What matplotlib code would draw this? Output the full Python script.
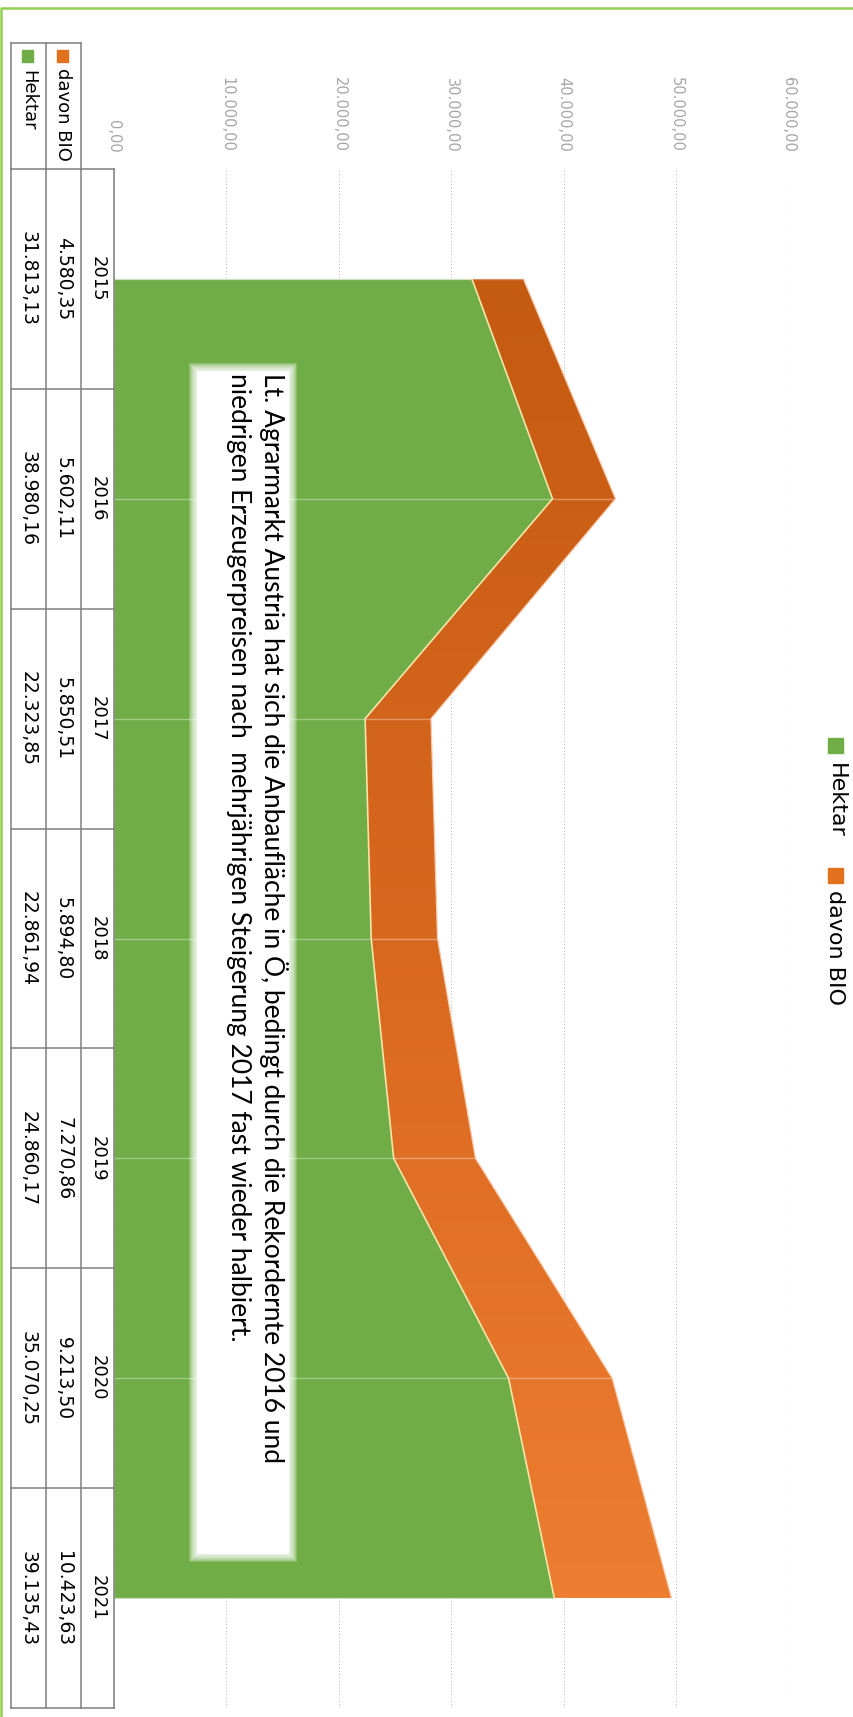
import numpy as np
import matplotlib.pyplot as plt
import matplotlib.transforms as mtransforms
from matplotlib.colors import LinearSegmentedColormap
from matplotlib.patches import Rectangle
from matplotlib.ticker import FuncFormatter

# data (chart is drawn turned by 90 degrees, as in the reference)
years = ["2015", "2016", "2017", "2018", "2019", "2020", "2021"]
hektar = [31813.13, 38980.16, 22323.85, 22861.94, 24860.17, 35070.25, 39135.43]
bio = [4580.35, 5602.11, 5850.51, 5894.80, 7270.86, 9213.50, 10423.63]
series_names = ["Hektar", "davon BIO"]
note = ("Lt. Agrarmarkt Austria hat sich die Anbaufläche in Ö, bedingt durch die Rekordernte 2016 und\n"
        "niedrigen Erzeugerpreisen nach  mehrjährigen Steigerung 2017 fast wieder halbiert.")

green = "#70AD47"
orange_top = "#C55A11"
orange_bot = "#ED7D31"


def de(v):
    # german number format 12.345,67
    return f"{v:,.2f}".replace(",", "X").replace(".", ",").replace("X", ".")


W, H = 854, 1717
fig = plt.figure(figsize=(W / 100, H / 100), dpi=100)


def px(x0, y0, x1, y1):
    return [x0 / W, 1 - y1 / H, (x1 - x0) / W, (y1 - y0) / H]


ax = fig.add_axes(px(114, 169, 789, 1708))
ax.patch.set_alpha(0)
pos = np.arange(len(years))
top = np.array(hektar) + np.array(bio)

ax.fill_betweenx(pos, 0, hektar, color=green, lw=0, zorder=2)
band = ax.fill_betweenx(pos, hektar, top, facecolor="none", lw=0, zorder=2)
cmap = LinearSegmentedColormap.from_list("og", [orange_top, "#D9681F", orange_bot])
grad = ax.imshow(np.linspace(0, 1, 256).reshape(-1, 1), cmap=cmap, aspect="auto",
                 extent=(0, 60000, pos[-1], pos[0]), zorder=2)
grad.set_clip_path(band.get_paths()[0], ax.transData)

ax.hlines(pos, 0, top, colors="white", alpha=0.35, lw=1, zorder=2.5)
ax.plot(hektar, pos, color="#F3E6A8", lw=1.2, zorder=3)
ax.plot(top, pos, color="#F8CBAD", lw=0.9, zorder=3)

ax.set_xlim(0, 60000)
ax.set_ylim(6.5, -0.5)
ax.set_xticks(np.arange(0, 60001, 10000))
ax.xaxis.set_major_formatter(FuncFormatter(lambda v, p: de(v)))
ax.xaxis.tick_top()
ax.tick_params(axis="x", length=0, pad=12, labelrotation=270, labelcolor="#a6a6a6", labelsize=10.5)
ax.set_yticks([])
ax.xaxis.grid(True, linestyle=(0, (1, 2)), color="#bfbfbf", lw=0.8)
ax.set_axisbelow(True)
for s in ax.spines.values():
    s.set_visible(False)

# overlay in pixel coordinates for table, legend, note
ov = fig.add_axes([0, 0, 1, 1])
ov.set_xlim(0, W)
ov.set_ylim(H, 0)
ov.axis("off")
ov.patch.set_alpha(0)
blend = mtransforms.blended_transform_factory(ov.transData, ax.transData)

ov.plot([1, 1, W + 5], [H + 5, 8, 8], color="#92D050", lw=1.8, solid_capstyle="butt")

# data table
tc, tlw = "#7f7f7f", 1.1
for x in [11, 46, 81]:
    ov.plot([x, x], [43, 169], color=tc, lw=tlw)
    ov.plot([x, x], [-0.5, 6.5], color=tc, lw=tlw, transform=blend)
ov.plot([114, 114], [-0.5, 6.5], color=tc, lw=tlw, transform=blend)
ov.plot([11, 81], [43, 43], color=tc, lw=tlw)
for i in range(len(years) + 1):
    ov.plot([11, 114], [i - 0.5, i - 0.5], color=tc, lw=tlw, transform=blend)

for i in range(len(years)):
    ov.text(97.5, i, years[i], transform=blend, rotation=270, ha="center", va="center", fontsize=13)
    ov.text(63.5, i, de(bio[i]), transform=blend, rotation=270, ha="center", va="center", fontsize=13.5)
    ov.text(28.5, i, de(hektar[i]), transform=blend, rotation=270, ha="center", va="center", fontsize=13.5)

ov.add_patch(Rectangle((57, 50), 11, 12, color="#E2711D"))
ov.add_patch(Rectangle((22, 50), 11, 12, color=green))
ov.text(63.5, 68, series_names[1], rotation=270, ha="center", va="top", fontsize=13)
ov.text(28.5, 70, series_names[0], rotation=270, ha="center", va="top", fontsize=13)

# legend
ov.add_patch(Rectangle((828, 738), 15, 15, color=green))
ov.text(835.5, 763, series_names[0], rotation=270, ha="center", va="top", fontsize=16)
ov.add_patch(Rectangle((828, 868), 15, 15, color="#E2711D"))
ov.text(835.5, 890, series_names[1], rotation=270, ha="center", va="top", fontsize=16)

# note box with soft edge
bx0, by0, bx1, by1 = 193, 367, 293, 1558
for k in range(8):
    p = 8 - k
    ov.add_patch(Rectangle((bx0 + 4 - p, by0 + 4 - p), bx1 - bx0 - 8 + 2 * p, by1 - by0 - 8 + 2 * p,
                           fc="white", ec="none", alpha=0.2, zorder=4))
ov.add_patch(Rectangle((bx0 + 4, by0 + 4), bx1 - bx0 - 8, by1 - by0 - 8, fc="white", ec="none", zorder=4))
ov.text(257, 373, note, rotation=270, ha="center", va="top", fontsize=19, family="Lato",
        linespacing=1.4, multialignment="left", zorder=5)

fig.savefig("out.png", dpi=100, facecolor="white")
